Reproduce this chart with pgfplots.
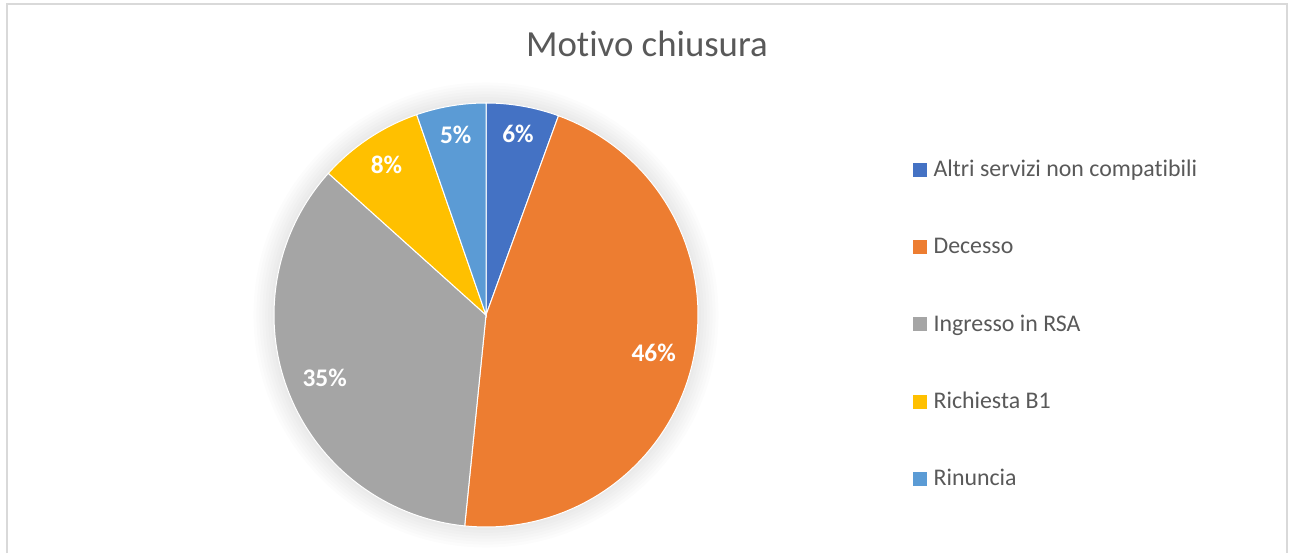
\documentclass[border=0pt]{standalone}
\usepackage{pgfplots}
\usepackage{pgfplotstable}
\pgfplotsset{compat=1.18}
\usepackage{fontspec}
\setmainfont{Carlito}[Ligatures={NoCommon}]
\definecolor{cA}{HTML}{4472C4}
\definecolor{cB}{HTML}{ED7D31}
\definecolor{cC}{HTML}{A5A5A5}
\definecolor{cD}{HTML}{FFC000}
\definecolor{cE}{HTML}{5B9BD5}
\definecolor{txt}{HTML}{595959}
\definecolor{frame}{HTML}{D9D9D9}

\pgfplotstableread{
label value
Altri 5.55
Decesso 46.05
Ingresso 35.05
Richiesta 8.05
Rinuncia 5.30
}\piedata

\pgfplotstablegetelem{0}{value}\of\piedata \let\vA\pgfplotsretval
\pgfplotstablegetelem{1}{value}\of\piedata \let\vB\pgfplotsretval
\pgfplotstablegetelem{2}{value}\of\piedata \let\vC\pgfplotsretval
\pgfplotstablegetelem{3}{value}\of\piedata \let\vD\pgfplotsretval
\pgfplotstablegetelem{4}{value}\of\piedata \let\vE\pgfplotsretval

\pgfmathsetmacro\aA{90}
\pgfmathsetmacro\aB{\aA-3.6*\vA}
\pgfmathsetmacro\aC{\aB-3.6*\vB}
\pgfmathsetmacro\aD{\aC-3.6*\vC}
\pgfmathsetmacro\aE{\aD-3.6*\vD}
\pgfmathsetmacro\aF{\aE-3.6*\vE}

\def\cx{486}
\def\cy{-315}
\def\R{212}

% label positions
\pgfmathsetmacro\lxA{\cx+184*cos((\aA+\aB)/2)}\pgfmathsetmacro\lyA{\cy+184*sin((\aA+\aB)/2)}
\pgfmathsetmacro\lxB{\cx+172*cos((\aB+\aC)/2)}\pgfmathsetmacro\lyB{\cy+172*sin((\aB+\aC)/2)}
\pgfmathsetmacro\lxC{\cx+173*cos((\aC+\aD)/2)}\pgfmathsetmacro\lyC{\cy+173*sin((\aC+\aD)/2)}
\pgfmathsetmacro\lxD{\cx+180*cos((\aD+\aE)/2)}\pgfmathsetmacro\lyD{\cy+180*sin((\aD+\aE)/2)}
\pgfmathsetmacro\lxE{\cx+183*cos((\aE+\aF)/2)}\pgfmathsetmacro\lyE{\cy+183*sin((\aE+\aF)/2)}

\newcommand\slice[3]{% color, from, to
  \addplot[fill=#1, draw=white, line width=0.75pt, domain=#3:#2, samples=80, variable=\t]
    ({\cx+\R*cos(\t)}, {\cy+\R*sin(\t)}) -- (axis cs:\cx,\cy) -- cycle;
}
\newcommand\plabel[3]{% x, y, value
  \node[text=white, font=\fontsize{19}{22}\selectfont\bfseries, inner sep=0pt] at (axis cs:#1,#2)
    {\pgfmathprintnumber[fixed, precision=0, assume math mode=true]{#3}\%};
}
\newcommand\legitem[3]{% y baseline, color, text
  \fill[#2] (axis cs:912.7,-#1) rectangle (axis cs:926.7,-#1+14);
  \node[anchor=base west, inner sep=0pt, text=txt, font=\fontsize{17.9}{21}\selectfont] at (axis cs:933.3,-#1) {#3};
}

\begin{document}
\begin{tikzpicture}
\begin{axis}[
  scale only axis, width=969.75pt, height=414.75pt,
  xmin=0, xmax=1293, ymin=-553, ymax=0,
  axis lines=none, clip=false,
]
\fill[white] (axis cs:0,0) rectangle (axis cs:1293,-553);
\draw[frame, line width=1.5pt] (axis cs:7,-553) -- (axis cs:7,-4) -- (axis cs:1287,-4) -- (axis cs:1287,-553);

\pgfplotsinvokeforeach{1,...,7}{
  \fill[black, opacity=0.011] (axis cs:\cx,\cy) circle[radius={(159+2.2*#1)*1pt}];
}

\slice{cA}{\aA}{\aB}
\slice{cB}{\aB}{\aC}
\slice{cC}{\aC}{\aD}
\slice{cD}{\aD}{\aE}
\slice{cE}{\aE}{\aF}

\plabel{\lxA}{\lyA}{\vA}
\plabel{\lxB}{\lyB}{\vB}
\plabel{\lxC}{\lyC}{\vC}
\plabel{\lxD}{\lyD}{\vD}
\plabel{\lxE}{\lyE}{\vE}

\node[anchor=base, inner sep=0pt, text=txt, font=\fontsize{27.6}{32}\selectfont] at (axis cs:647,-56.7) {Motivo chiusura};

\legitem{176.7}{cA}{Altri servizi non compatibili}
\legitem{254.0}{cB}{Decesso}
\legitem{331.3}{cC}{Ingresso in RSA}
\legitem{408.6}{cD}{Richiesta B1}
\legitem{486.0}{cE}{Rinuncia}
\end{axis}
\end{tikzpicture}
\end{document}
